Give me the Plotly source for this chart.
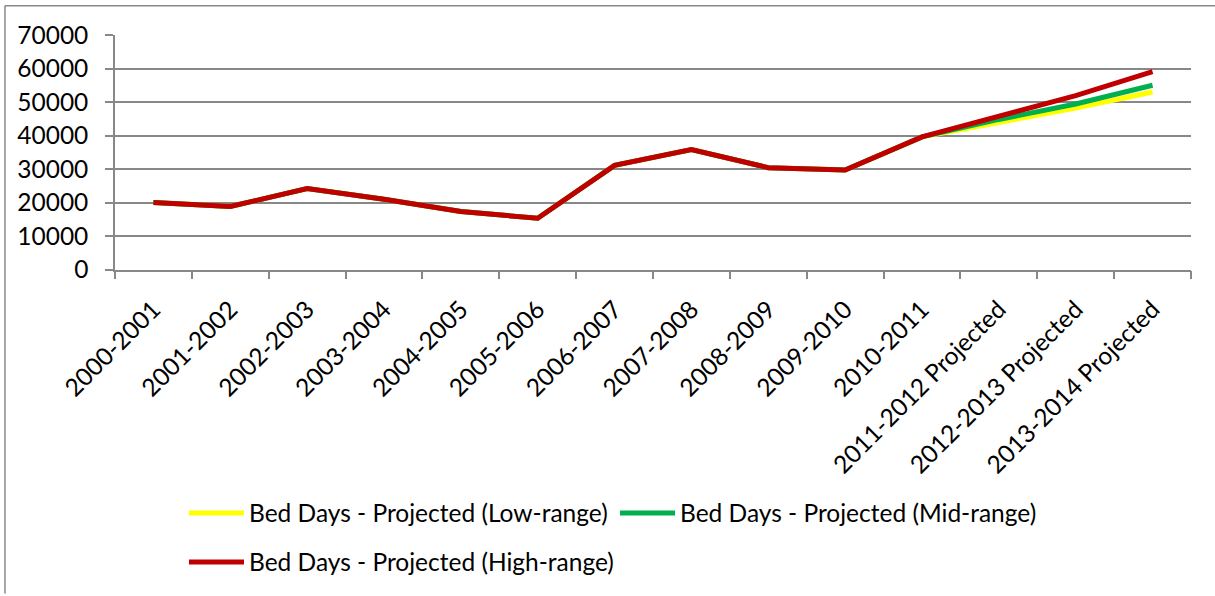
import plotly.graph_objects as go

categories = ["2000-2001", "2001-2002", "2002-2003", "2003-2004", "2004-2005",
              "2005-2006", "2006-2007", "2007-2008", "2008-2009", "2009-2010",
              "2010-2011", "2011-2012 Projected", "2012-2013 Projected",
              "2013-2014 Projected"]

low_range = [20000, 18800, 24200, 21000, 17300, 15300, 31100, 35800, 30400, 29700,
             39600, 43800, 48200, 53000]
mid_range = [20000, 18800, 24200, 21000, 17300, 15300, 31100, 35800, 30400, 29700,
             39600, 44800, 49400, 55000]
high_range = [20000, 18800, 24200, 21000, 17300, 15300, 31100, 35800, 30400, 29700,
              39600, 45600, 51900, 59100]

y_ticks = [0, 10000, 20000, 30000, 40000, 50000, 60000, 70000]

W, H = 1215, 596
L, R, T, B = 115, 24.3, 34.5, 324
pw = W - L - R
ph = H - T - B

FONT = "Lato, 'Open Sans', sans-serif"
FS = 24.5
GRAY = "#888888"

fig = go.Figure()
fig.add_trace(go.Scatter(x=categories, y=low_range, mode="lines",
                         name="Bed Days - Projected (Low-range)",
                         line=dict(color="#FFFF00", width=5), legend="legend"))
fig.add_trace(go.Scatter(x=categories, y=mid_range, mode="lines",
                         name="Bed Days - Projected (Mid-range)",
                         line=dict(color="#00B050", width=5), legend="legend"))
fig.add_trace(go.Scatter(x=categories, y=high_range, mode="lines",
                         name="Bed Days - Projected (High-range)",
                         line=dict(color="#C00000", width=5), legend="legend2"))


def px_x(p):
    return (p - L) / pw


def px_y(p):
    return (H - B - p) / ph


shapes = [
    dict(type="line", xref="paper", yref="paper", x0=px_x(5), x1=px_x(1220),
         y0=px_y(5), y1=px_y(5), line=dict(color=GRAY, width=1.5)),
    dict(type="line", xref="paper", yref="paper", x0=px_x(5), x1=px_x(5),
         y0=px_y(5), y1=px_y(600), line=dict(color=GRAY, width=1.5)),
]

fig.update_layout(
    width=W, height=H,
    margin=dict(l=L, r=R, t=T, b=B, pad=0),
    paper_bgcolor="white", plot_bgcolor="white",
    font=dict(family=FONT, size=FS, color="black"),
    shapes=shapes,
    showlegend=True,
    legend=dict(orientation="h", xref="container", yref="container",
                x=184 / W, y=1 - 513 / H, xanchor="left", yanchor="middle",
                entrywidth=361, entrywidthmode="pixels", itemwidth=55,
                font=dict(family=FONT, size=FS, color="black"),
                bgcolor="rgba(0,0,0,0)", borderwidth=0),
    legend2=dict(orientation="h", xref="container", yref="container",
                 x=184 / W, y=1 - 562 / H, xanchor="left", yanchor="middle",
                 itemwidth=55,
                 font=dict(family=FONT, size=FS, color="black"),
                 bgcolor="rgba(0,0,0,0)", borderwidth=0),
    xaxis=dict(type="category", range=[-0.5, len(categories) - 0.5],
               tickson="boundaries", ticks="outside", ticklen=8, tickwidth=1.5,
               tickcolor=GRAY, showline=True, linecolor=GRAY, linewidth=1.5,
               showgrid=False, tickangle=-45, ticklabelstandoff=14,
               tickfont=dict(family=FONT, size=FS, color="black"), fixedrange=True),
    yaxis=dict(range=[0, 70000], tickvals=y_ticks, ticktext=[str(v) for v in y_ticks],
               ticks="outside", ticklen=8, tickwidth=1.5, tickcolor=GRAY,
               showline=True, linecolor=GRAY, linewidth=1.5,
               showgrid=True, gridcolor=GRAY, gridwidth=1.5, zeroline=False,
               ticklabelstandoff=12,
               tickfont=dict(family=FONT, size=FS, color="black"), fixedrange=True),
)

fig.write_html("out.html", config={"displayModeBar": False},
               post_script="document.body.style.margin='0';")
